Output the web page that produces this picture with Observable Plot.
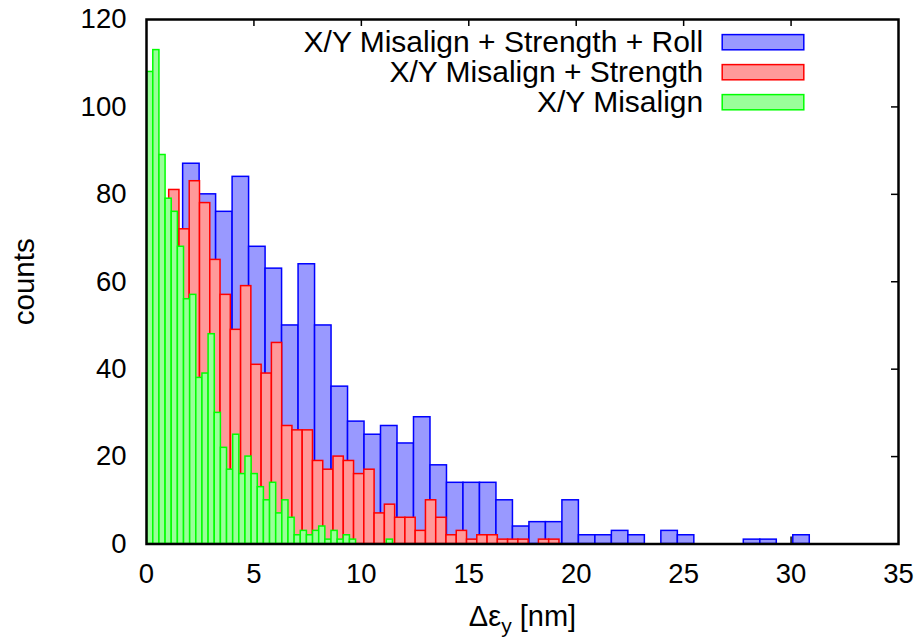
<!DOCTYPE html>
<html>
<head>
<meta charset="utf-8">
<script src="https://cdn.jsdelivr.net/npm/d3@7"></script>
<script src="https://cdn.jsdelivr.net/npm/@observablehq/plot@0.6"></script>
<style>
  html, body { margin: 0; padding: 0; background: #fff; }
</style>
</head>
<body>
<div id="chart"></div>
<script>
// ---- data ----
const seriesNames = ["X/Y Misalign + Strength + Roll", "X/Y Misalign + Strength", "X/Y Misalign"];
// histogram range [min, max] of Δε_y in nm; 40 equal bins per series
const rollRange = [0.17, 30.87];
const strengthRange = [0.10, 19.22];
const misalignRange = [0.03, 11.47];
const rollCounts = [34, 64, 87, 80, 76, 84, 68, 63, 50, 64, 50, 36, 28, 25, 27, 23, 29, 18, 14, 14,
                    14, 10, 4, 5, 5, 10, 2, 2, 3, 2, 0, 3, 2, 0, 0, 0, 1, 1, 0, 2];
const strengthCounts = [30, 51, 81, 72, 83, 78, 65, 57, 49, 59, 41, 39, 46, 27, 26, 26, 19, 17, 20, 19,
                        16, 17, 7, 9, 6, 6, 3, 10, 6, 2, 3, 1, 2, 2, 1, 1, 1, 0, 1, 1];
const misalignCounts = [108, 113, 89, 79, 76, 68, 56, 57, 38, 39, 48, 30, 22, 17, 25, 16, 20, 16, 13, 10,
                        14, 7, 10, 6, 2, 3, 2, 3, 4, 1, 3, 1, 2, 1, 0, 0, 0, 0, 0, 1];
const xTicks = [0, 5, 10, 15, 20, 25, 30, 35];
const yTicks = [0, 20, 40, 60, 80, 100, 120];

// ---- build tables ----
function toBins(range, counts) {
  const w = (range[1] - range[0]) / counts.length;
  return counts.map((c, i) => ({x1: range[0] + i * w, x2: range[0] + (i + 1) * w, count: c}))
               .filter(d => d.count > 0);
}
const rollBins = toBins(rollRange, rollCounts);
const strengthBins = toBins(strengthRange, strengthCounts);
const misalignBins = toBins(misalignRange, misalignCounts);

// ---- layout / style ----
const W = 924, H = 637;
const mL = 146, mR = 26, mT = 19, mB = 93.5;
const plotW = W - mL - mR, plotH = H - mT - mB;
const tickLen = 7;
const font = "'Liberation Sans', Arial, Helvetica, sans-serif";
const colors = [
  {fill: "#9999ff", stroke: "#0000ff"},
  {fill: "#ff9999", stroke: "#ff0000"},
  {fill: "#99ff99", stroke: "#00ff00"}
];

const legendMarks = [];
seriesNames.forEach((name, k) => {
  const cy = 41.7 + 30 * k; // row centre in px
  legendMarks.push(Plot.text([name], {
    text: d => d, frameAnchor: "top-right", dx: -(W - mR - 702.7), dy: cy - mT,
    textAnchor: "end", lineAnchor: "middle", fontSize: 30, fill: "#000"
  }));
  legendMarks.push(Plot.frame({
    fill: colors[k].fill, stroke: colors[k].stroke, strokeWidth: 1.5,
    insetLeft: 721.7 - mL, insetRight: W - mR - 803.3,
    insetTop: cy - 7.6 - mT, insetBottom: H - mB - (cy + 7.6)
  }));
});

const chart = Plot.plot({
  width: W, height: H,
  marginLeft: mL, marginRight: mR, marginTop: mT, marginBottom: mB,
  style: {fontFamily: font, background: "#fff", color: "#000", overflow: "visible"},
  x: {domain: [0, 35]},
  y: {domain: [0, 120]},
  marks: [
    // inward ticks on all four sides (behind the bars)
    Plot.tickX(xTicks.slice(1, -1), {x: d => d, insetTop: plotH - tickLen, stroke: "#000", strokeWidth: 1.5}),
    Plot.tickX(xTicks.slice(1, -1), {x: d => d, insetBottom: plotH - tickLen, stroke: "#000", strokeWidth: 1.5}),
    Plot.tickY(yTicks.slice(1, -1), {y: d => d, insetRight: plotW - tickLen, stroke: "#000", strokeWidth: 1.5}),
    Plot.tickY(yTicks.slice(1, -1), {y: d => d, insetLeft: plotW - tickLen, stroke: "#000", strokeWidth: 1.5}),
    // histograms
    Plot.rectY(rollBins, {x1: "x1", x2: "x2", y: "count", fill: colors[0].fill, stroke: colors[0].stroke, strokeWidth: 1.5}),
    Plot.rectY(strengthBins, {x1: "x1", x2: "x2", y: "count", fill: colors[1].fill, stroke: colors[1].stroke, strokeWidth: 1.5}),
    Plot.rectY(misalignBins, {x1: "x1", x2: "x2", y: "count", fill: colors[2].fill, stroke: colors[2].stroke, strokeWidth: 1.5}),
    // border
    Plot.frame({stroke: "#000", strokeWidth: 2.5}),
    // tick labels
    Plot.axisX({ticks: xTicks, tickSize: 0, tickPadding: 19, fontSize: 27.5, label: null, tickFormat: d => String(d)}),
    Plot.axisY({ticks: yTicks, tickSize: 0, tickPadding: 20, fontSize: 27.5, label: null, tickFormat: d => String(d)}),
    // axis titles
    Plot.text(["counts"], {text: d => d, frameAnchor: "left", textAnchor: "middle", dx: 24 - mL, rotate: -90, fontSize: 29.5, fill: "#000"}),
    Plot.text(["XLABEL"], {text: d => d, frameAnchor: "bottom", textAnchor: "middle", dy: 81.5, lineAnchor: "bottom", fontSize: 29, fill: "#000"}),
    ...legendMarks
  ]
});

// x-axis title with a real subscript
d3.select(chart).selectAll("text").filter(function() { return this.textContent === "XLABEL"; })
  .each(function() {
    const t = d3.select(this);
    t.text(null);
    t.append("tspan").text("Δε");
    t.append("tspan").attr("dy", 7).attr("font-size", 21).text("y");
    t.append("tspan").attr("dy", -7).text(" [nm]");
  });

document.getElementById("chart").appendChild(chart);
</script>
</body>
</html>
